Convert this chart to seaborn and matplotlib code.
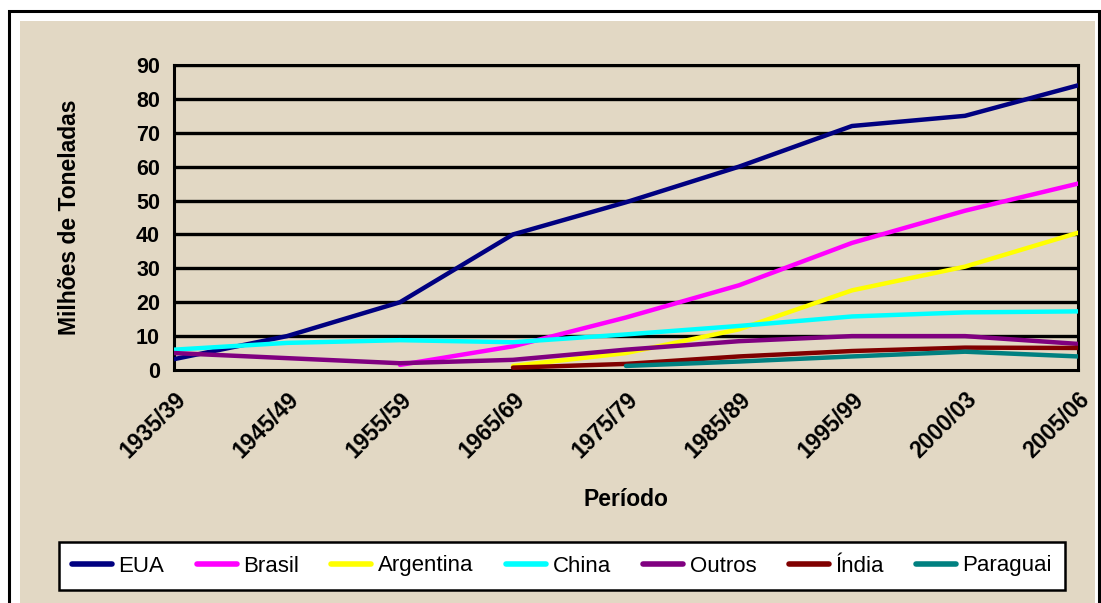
import matplotlib
matplotlib.use("Agg")
import matplotlib.pyplot as plt
from matplotlib.patches import Rectangle
from matplotlib import font_manager
import seaborn as sns
import pandas as pd
import numpy as np

periods = ["1935/39", "1945/49", "1955/59", "1965/69", "1975/79",
           "1985/89", "1995/99", "2000/03", "2005/06"]
eua = [3.2, 10, 20, 40, 49.5, 60, 72, 75, 84]
brasil = [None, None, 1.5, 7, 15.5, 25, 37.5, 47, 55]
argentina = [None, None, None, 1.2, 5, 12, 23.5, 30.5, 40.5]
china = [6, 8, 8.8, 8.2, 10.5, 13, 15.8, 17, 17.3]
outros = [5, 3.5, 2, 3, 6, 8.5, 10, 10, 7.7]
india = [None, None, None, 0.7, 1.8, 4, 5.6, 6.6, 6.5]
paraguai = [None, None, None, None, 1.2, 2.5, 4, 5.4, 4]

series_names = ["EUA", "Brasil", "Argentina", "China", "Outros", "Índia", "Paraguai"]
series_vals = [eua, brasil, argentina, china, outros, india, paraguai]
colors = ["#000080", "#FF00FF", "#FFFF00", "#00FFFF", "#800080", "#800000", "#008080"]

rows = []
for name, vals in zip(series_names, series_vals):
    for i, v in enumerate(vals):
        if v is not None:
            rows.append({"x": i, "valor": v, "pais": name})
df = pd.DataFrame(rows)

sns.set_theme(style="white")
names = {f.name for f in font_manager.fontManager.ttflist}
fam = ["Liberation Sans Narrow", "Liberation Sans", "DejaVu Sans"]
fam = [f for f in fam if f in names] or ["DejaVu Sans"]
plt.rcParams["font.family"] = fam
plt.rcParams["text.color"] = "black"
plt.rcParams["axes.labelcolor"] = "black"
plt.rcParams["xtick.color"] = "black"
plt.rcParams["ytick.color"] = "black"

W, H = 1101, 603
fig = plt.figure(figsize=(W / 100, H / 100), dpi=100)
fig.patch.set_facecolor("white")
# outer frame and parchment-coloured background
fig.patches.append(Rectangle((9 / W, -0.01), (1099 - 9) / W, 1.01 - 11 / H, transform=fig.transFigure,
                             facecolor="white", edgecolor="black", lw=2.2, zorder=-3))
fig.patches.append(Rectangle((20 / W, 0), (1095 - 20) / W, 1 - 21 / H, transform=fig.transFigure,
                             facecolor="#E2D8C4", edgecolor="none", zorder=-2))

ax = fig.add_axes([174 / W, 1 - 370 / H, (1078 - 174) / W, (370 - 65) / H])
ax.set_facecolor("none")

sns.lineplot(data=df, x="x", y="valor", hue="pais", hue_order=series_names,
             palette=dict(zip(series_names, colors)), linewidth=3.2, ax=ax,
             legend=True, zorder=3)

ax.set_xlim(0, 8)
ax.set_ylim(0, 90)
ax.set_yticks(range(0, 91, 10))
ax.set_xticks(range(len(periods)))
ax.set_xticklabels(periods, rotation=45, ha="right", rotation_mode="anchor",
                   fontsize=16.5, fontweight="bold")
ax.tick_params(axis="x", direction="out", length=6, width=1.5, color="black", pad=7)
ax.tick_params(axis="y", direction="out", length=6, width=1.5, color="black", labelsize=15.5, pad=4)
for lab in ax.get_yticklabels():
    lab.set_fontweight("bold")

ax.grid(False)
for yv in range(10, 91, 10):
    ax.axhline(yv, color="black", lw=2.4, zorder=1)
for s in ax.spines.values():
    s.set_visible(True)
    s.set_color("black")
    s.set_linewidth(2.2)

ax.set_xlabel("Período", fontsize=16.5, fontweight="bold", labelpad=18)
ax.set_ylabel("Milhões de Toneladas", fontsize=16.5, fontweight="bold", labelpad=40)

handles, labels = ax.get_legend_handles_labels()
ax.get_legend().remove()
leg = fig.legend(handles, labels, loc="center", bbox_to_anchor=(562 / W, 1 - 566 / H),
                 ncol=7, frameon=True, fancybox=False, fontsize=16, handlelength=1.8,
                 handletextpad=0.3, columnspacing=1.45, borderpad=0.6)
leg.get_frame().set_edgecolor("black")
leg.get_frame().set_linewidth(1.8)
leg.get_frame().set_facecolor("white")
leg.get_frame().set_alpha(1)
for ln in leg.get_lines():
    ln.set_linewidth(4)
    ln.set_solid_capstyle("round")

fig.savefig("out.png", dpi=100)
